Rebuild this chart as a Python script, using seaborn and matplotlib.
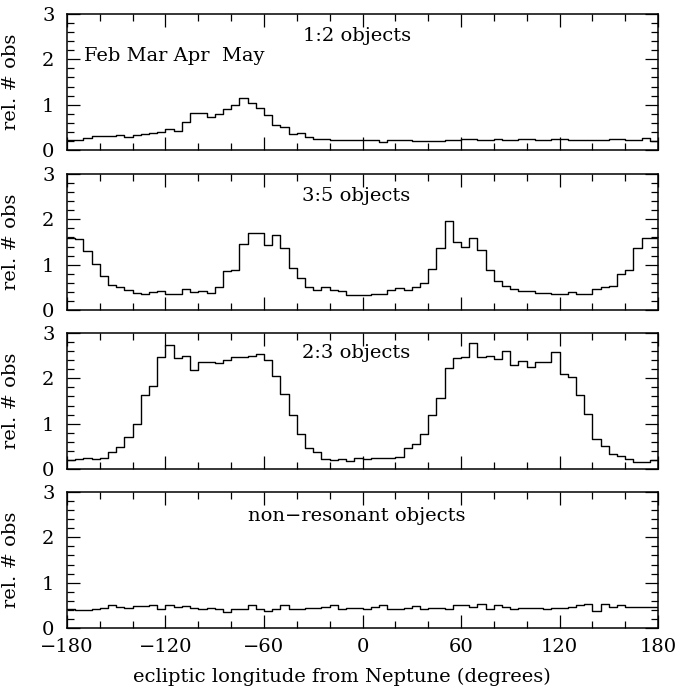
import numpy as np
import pandas as pd
import matplotlib
matplotlib.use("Agg")
import matplotlib.pyplot as plt
from matplotlib.ticker import MultipleLocator
import seaborn as sns

# 5-degree bins in ecliptic longitude from Neptune
bin_edges = np.arange(-180, 181, 5)
bin_centers = bin_edges[:-1] + 2.5

res_12 = [0.22, 0.23, 0.27, 0.31, 0.31, 0.31, 0.32, 0.29, 0.32, 0.35, 0.38, 0.40,
          0.46, 0.43, 0.62, 0.82, 0.82, 0.72, 0.79, 0.90, 0.99, 1.15, 1.04, 0.93,
          0.78, 0.56, 0.50, 0.35, 0.38, 0.29, 0.25, 0.235, 0.22, 0.21, 0.22, 0.23,
          0.22, 0.22, 0.18, 0.21, 0.21, 0.22, 0.19, 0.19, 0.20, 0.20, 0.21, 0.23,
          0.24, 0.25, 0.21, 0.22, 0.24, 0.23, 0.22, 0.24, 0.24, 0.23, 0.23, 0.24,
          0.24, 0.21, 0.22, 0.23, 0.23, 0.22, 0.24, 0.24, 0.22, 0.22, 0.27, 0.20]

res_35 = [1.59, 1.56, 1.30, 1.02, 0.74, 0.55, 0.51, 0.45, 0.38, 0.36, 0.39, 0.42,
          0.36, 0.36, 0.47, 0.39, 0.42, 0.38, 0.51, 0.85, 0.88, 1.45, 1.69, 1.69,
          1.43, 1.65, 1.37, 0.93, 0.70, 0.50, 0.44, 0.51, 0.45, 0.42, 0.34, 0.32,
          0.32, 0.36, 0.35, 0.44, 0.48, 0.44, 0.51, 0.60, 0.91, 1.37, 1.97, 1.50,
          1.40, 1.59, 1.33, 0.89, 0.64, 0.53, 0.47, 0.42, 0.41, 0.38, 0.38, 0.35,
          0.35, 0.39, 0.36, 0.36, 0.47, 0.51, 0.54, 0.79, 0.88, 1.36, 1.59, 1.59]

res_23 = [0.19, 0.22, 0.235, 0.22, 0.25, 0.38, 0.49, 0.71, 0.99, 1.63, 1.84, 2.47,
          2.74, 2.44, 2.49, 2.18, 2.35, 2.35, 2.34, 2.41, 2.47, 2.46, 2.50, 2.54,
          2.40, 2.06, 1.66, 1.19, 0.78, 0.47, 0.37, 0.21, 0.19, 0.22, 0.18, 0.235,
          0.22, 0.25, 0.25, 0.25, 0.26, 0.47, 0.56, 0.78, 1.19, 1.57, 2.22, 2.44,
          2.47, 2.79, 2.47, 2.50, 2.43, 2.60, 2.29, 2.38, 2.26, 2.35, 2.37, 2.59,
          2.10, 2.03, 1.63, 1.21, 0.66, 0.50, 0.34, 0.28, 0.21, 0.16, 0.16, 0.19]

non_res = [0.42, 0.40, 0.39, 0.41, 0.44, 0.50, 0.47, 0.45, 0.48, 0.48, 0.51, 0.42,
           0.50, 0.47, 0.48, 0.45, 0.42, 0.44, 0.41, 0.36, 0.41, 0.41, 0.50, 0.42,
           0.38, 0.42, 0.50, 0.41, 0.42, 0.44, 0.44, 0.47, 0.50, 0.42, 0.45, 0.45,
           0.42, 0.47, 0.50, 0.42, 0.42, 0.45, 0.48, 0.42, 0.44, 0.45, 0.41, 0.51,
           0.50, 0.47, 0.54, 0.42, 0.50, 0.47, 0.41, 0.44, 0.44, 0.44, 0.41, 0.44,
           0.44, 0.47, 0.50, 0.54, 0.38, 0.53, 0.47, 0.51, 0.47, 0.47, 0.47, 0.47]

panel_labels = ["1:2 objects", "3:5 objects", "2:3 objects", "non\u2212resonant objects"]
series = [res_12, res_35, res_23, non_res]
label_y = [0.84, 0.84, 0.85, 0.82]
months_text = "Feb Mar Apr  May"

sns.set_style("ticks")
plt.rcParams["font.family"] = ["DejaVu Serif"]
plt.rcParams["font.size"] = 14
for key in ["text.color", "axes.labelcolor", "xtick.color", "ytick.color"]:
    plt.rcParams[key] = "black"

fig = plt.figure(figsize=(6.81, 6.90), dpi=100)
left, width, height = 67 / 681, 591 / 681, 136 / 690
bottoms = [1 - 150 / 690, 1 - 310 / 690, 1 - 469 / 690, 1 - 628 / 690]

for i, vals in enumerate(series):
    ax = fig.add_axes([left, bottoms[i], width, height])
    df = pd.DataFrame({"lon": bin_centers, "w": vals})
    sns.histplot(data=df, x="lon", weights="w", binwidth=5, binrange=(-180, 180),
                 element="step", fill=False, color="black", linewidth=1.0, ax=ax)
    ax.set_xlim(-180, 180)
    ax.set_ylim(0, 3)
    ax.xaxis.set_major_locator(MultipleLocator(60))
    ax.xaxis.set_minor_locator(MultipleLocator(20))
    ax.yaxis.set_major_locator(MultipleLocator(1))
    ax.yaxis.set_minor_locator(MultipleLocator(0.2))
    ax.tick_params(which="both", direction="in", top=True, right=True,
                   color="black", labelsize=14)
    ax.tick_params(which="major", length=9.5, width=0.9)
    ax.tick_params(which="minor", length=5, width=0.9)
    ax.tick_params(axis="y", pad=9)
    ax.tick_params(axis="x", pad=7)
    for s in ax.spines.values():
        s.set_linewidth(1.1)
        s.set_color("black")
    ax.set_ylabel("rel. # obs", fontsize=14)
    ax.yaxis.set_label_coords(-0.08, 0.5)
    ax.text(0.49, label_y[i], panel_labels[i], transform=ax.transAxes,
            ha="center", va="center", fontsize=14)
    if i == 0:
        ax.text(0.029, 0.69, months_text, transform=ax.transAxes,
                ha="left", va="center", fontsize=14)
    if i < 3:
        ax.set_xlabel("")
        ax.tick_params(axis="x", labelbottom=False)
    else:
        ax.set_xlabel("ecliptic longitude from Neptune (degrees)", fontsize=14,
                      va="center")
        ax.xaxis.set_label_coords(0.465, -0.36)

fig.savefig("out.png", dpi=100)
